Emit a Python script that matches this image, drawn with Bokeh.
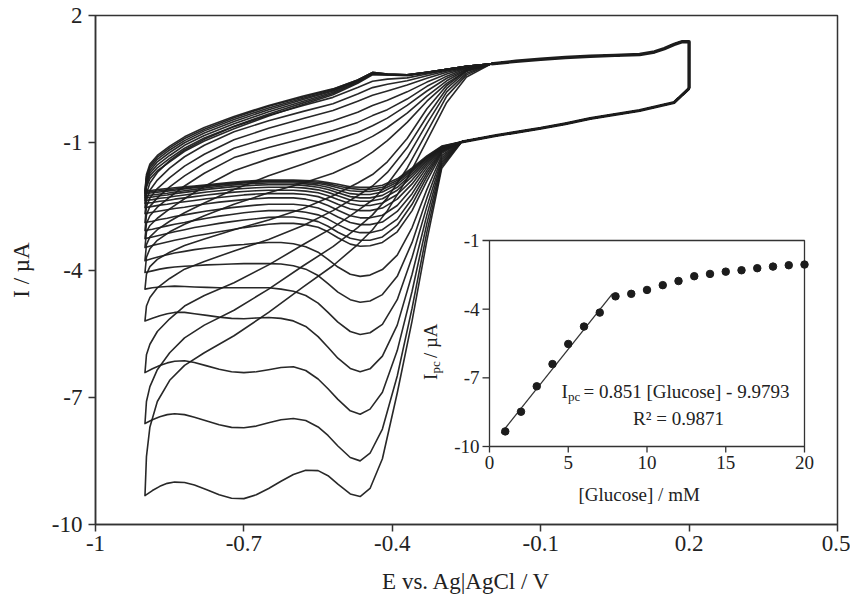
from bokeh.plotting import figure
from bokeh.models import (Range1d, FixedTicker, CustomJSTickFormatter, ColumnDataSource)
from bokeh.core.properties import value
from bokeh.embed import file_html
from bokeh.resources import INLINE

# ---------------- main CV data ----------------
X_TICKS = [-1, -0.7, -0.4, -0.1, 0.2, 0.5]
Y_TICKS = [2, -1, -4, -7, -10]

# shared cathodic start (from 0.2 V going negative)
E_CATH_COMMON = [0.2, 0.17, 0.1, 0.0, -0.05, -0.1, -0.19, -0.26]
I_CATH_COMMON = [0.28, -0.05, -0.24, -0.43, -0.55, -0.66, -0.83, -0.98]

# per-curve cathodic part
E_CATH = [-0.30, -0.33, -0.36, -0.39, -0.42, -0.445, -0.465, -0.485, -0.51, -0.53,
          -0.55, -0.575, -0.60, -0.625, -0.65, -0.675, -0.70, -0.725, -0.75, -0.775,
          -0.80, -0.82, -0.84, -0.855, -0.87, -0.885, -0.90]
I_CATH = [
    [-1.6, -3.3, -5.2, -6.9, -8.45, -9.15, -9.34, -9.28, -9.05, -8.85, -8.73, -8.72, -8.82, -8.98, -9.15, -9.3, -9.39, -9.38, -9.3, -9.18, -9.07, -9.01, -9.0, -9.03, -9.1, -9.2, -9.32],
    [-1.55, -3.1, -4.9, -6.5, -7.75, -8.32, -8.5, -8.42, -8.15, -7.9, -7.7, -7.55, -7.5, -7.53, -7.6, -7.68, -7.72, -7.71, -7.65, -7.56, -7.47, -7.41, -7.39, -7.41, -7.46, -7.53, -7.62],
    [-1.5, -2.9, -4.5, -5.9, -6.88, -7.28, -7.4, -7.32, -7.05, -6.8, -6.57, -6.37, -6.28, -6.3, -6.35, -6.4, -6.42, -6.4, -6.34, -6.26, -6.18, -6.14, -6.15, -6.19, -6.25, -6.33, -6.42],
    [-1.45, -2.7, -4.1, -5.3, -6.03, -6.33, -6.4, -6.32, -6.08, -5.82, -5.57, -5.33, -5.2, -5.14, -5.12, -5.13, -5.15, -5.14, -5.11, -5.07, -5.03, -5.0, -5.0, -5.03, -5.08, -5.14, -5.2],
    [-1.4, -2.5, -3.7, -4.7, -5.28, -5.48, -5.52, -5.45, -5.23, -5.0, -4.78, -4.6, -4.5, -4.45, -4.42, -4.42, -4.42, -4.42, -4.42, -4.41, -4.4, -4.39, -4.38, -4.39, -4.4, -4.42, -4.45],
    [-1.35, -2.3, -3.35, -4.15, -4.58, -4.73, -4.76, -4.7, -4.52, -4.32, -4.13, -3.98, -3.9, -3.86, -3.85, -3.85, -3.85, -3.86, -3.87, -3.88, -3.9, -3.91, -3.93, -3.95, -3.98, -4.02, -4.06],
    [-1.3, -2.1, -3.0, -3.65, -3.99, -4.12, -4.15, -4.1, -3.93, -3.75, -3.58, -3.45, -3.38, -3.35, -3.35, -3.37, -3.4, -3.42, -3.45, -3.48, -3.52, -3.56, -3.6, -3.64, -3.68, -3.73, -3.78],
    [-1.25, -1.9, -2.6, -3.1, -3.35, -3.43, -3.44, -3.39, -3.24, -3.1, -2.99, -2.93, -2.9, -2.9, -2.92, -2.96, -3.0, -3.05, -3.1, -3.15, -3.2, -3.25, -3.3, -3.34, -3.38, -3.42, -3.47],
    [-1.22, -1.8, -2.45, -2.95, -3.22, -3.3, -3.3, -3.25, -3.11, -2.97, -2.86, -2.79, -2.75, -2.75, -2.76, -2.79, -2.82, -2.86, -2.9, -2.95, -3.0, -3.05, -3.1, -3.14, -3.18, -3.22, -3.26],
    [-1.2, -1.72, -2.32, -2.8, -3.05, -3.12, -3.12, -3.07, -2.93, -2.8, -2.7, -2.64, -2.6, -2.6, -2.6, -2.62, -2.65, -2.69, -2.73, -2.78, -2.83, -2.88, -2.92, -2.96, -3.0, -3.04, -3.07],
    [-1.18, -1.65, -2.2, -2.62, -2.87, -2.93, -2.93, -2.88, -2.75, -2.63, -2.54, -2.48, -2.45, -2.45, -2.45, -2.47, -2.5, -2.53, -2.57, -2.61, -2.66, -2.7, -2.74, -2.78, -2.81, -2.85, -2.88],
    [-1.16, -1.58, -2.08, -2.48, -2.71, -2.77, -2.77, -2.72, -2.59, -2.48, -2.39, -2.33, -2.3, -2.3, -2.3, -2.32, -2.34, -2.37, -2.4, -2.44, -2.48, -2.52, -2.55, -2.58, -2.61, -2.64, -2.67],
    [-1.14, -1.52, -1.97, -2.33, -2.54, -2.6, -2.6, -2.56, -2.45, -2.35, -2.27, -2.22, -2.2, -2.2, -2.2, -2.21, -2.23, -2.26, -2.29, -2.32, -2.36, -2.39, -2.42, -2.45, -2.47, -2.5, -2.53],
    [-1.13, -1.47, -1.88, -2.22, -2.42, -2.48, -2.48, -2.44, -2.34, -2.25, -2.18, -2.14, -2.12, -2.12, -2.12, -2.13, -2.15, -2.17, -2.2, -2.23, -2.27, -2.3, -2.33, -2.36, -2.38, -2.41, -2.43],
    [-1.12, -1.43, -1.8, -2.12, -2.32, -2.38, -2.38, -2.35, -2.25, -2.17, -2.11, -2.07, -2.05, -2.05, -2.05, -2.06, -2.08, -2.1, -2.13, -2.16, -2.2, -2.23, -2.26, -2.29, -2.31, -2.34, -2.36],
    [-1.11, -1.4, -1.74, -2.05, -2.24, -2.3, -2.3, -2.27, -2.18, -2.1, -2.05, -2.01, -1.99, -1.99, -1.99, -2.0, -2.02, -2.04, -2.07, -2.1, -2.14, -2.17, -2.2, -2.23, -2.25, -2.28, -2.3],
    [-1.1, -1.37, -1.69, -1.98, -2.16, -2.22, -2.22, -2.2, -2.12, -2.05, -2.0, -1.97, -1.95, -1.95, -1.95, -1.96, -1.98, -2.0, -2.03, -2.06, -2.1, -2.13, -2.16, -2.19, -2.21, -2.23, -2.25],
    [-1.1, -1.35, -1.65, -1.93, -2.1, -2.15, -2.15, -2.13, -2.06, -2.0, -1.96, -1.94, -1.92, -1.92, -1.92, -1.93, -1.95, -1.97, -2.0, -2.03, -2.06, -2.09, -2.12, -2.14, -2.16, -2.18, -2.2],
    [-1.09, -1.33, -1.62, -1.89, -2.05, -2.1, -2.1, -2.08, -2.02, -1.97, -1.93, -1.91, -1.9, -1.9, -1.9, -1.91, -1.93, -1.95, -1.98, -2.01, -2.04, -2.07, -2.09, -2.11, -2.13, -2.15, -2.17],
    [-1.08, -1.31, -1.59, -1.85, -2.0, -2.05, -2.05, -2.04, -1.98, -1.94, -1.9, -1.89, -1.88, -1.88, -1.88, -1.89, -1.91, -1.93, -1.96, -1.99, -2.02, -2.04, -2.06, -2.08, -2.1, -2.12, -2.13],
]

# per-curve return (anodic) part
E_AN = [-0.897, -0.89, -0.875, -0.85, -0.82, -0.78, -0.72, -0.65, -0.58,
        -0.52, -0.47, -0.44, -0.41, -0.37, -0.33, -0.29, -0.25]
I_AN = [
    [-8.4, -7.7, -7.1, -6.6, -6.25, -5.95, -5.55, -5.0, -4.4, -3.9, -3.4, -3.05, -2.6, -1.85, -0.95, -0.05, 0.55],
    [-7.1, -6.75, -6.35, -5.95, -5.6, -5.3, -4.95, -4.45, -3.9, -3.45, -3.0, -2.7, -2.3, -1.6, -0.75, 0.1, 0.6],
    [-6.0, -5.75, -5.45, -5.15, -4.85, -4.6, -4.3, -3.88, -3.4, -3.0, -2.6, -2.35, -1.98, -1.35, -0.55, 0.2, 0.64],
    [-4.85, -4.65, -4.42, -4.2, -3.98, -3.8, -3.55, -3.28, -2.95, -2.6, -2.25, -2.02, -1.7, -1.12, -0.38, 0.28, 0.68],
    [-4.1, -3.92, -3.75, -3.58, -3.42, -3.27, -3.05, -2.82, -2.55, -2.25, -1.95, -1.75, -1.45, -0.9, -0.2, 0.35, 0.7],
    [-3.7, -3.5, -3.3, -3.1, -2.92, -2.72, -2.45, -2.18, -1.95, -1.72, -1.45, -1.22, -0.95, -0.52, -0.02, 0.4, 0.7],
    [-3.4, -3.22, -3.05, -2.85, -2.65, -2.42, -2.1, -1.78, -1.5, -1.25, -1.02, -0.85, -0.64, -0.3, 0.1, 0.46, 0.72],
    [-3.1, -2.95, -2.78, -2.56, -2.32, -2.03, -1.66, -1.38, -1.15, -0.95, -0.76, -0.6, -0.42, -0.12, 0.22, 0.52, 0.73],
    [-2.9, -2.72, -2.52, -2.28, -2.02, -1.72, -1.35, -1.11, -0.9, -0.71, -0.52, -0.36, -0.22, 0.03, 0.33, 0.57, 0.75],
    [-2.7, -2.5, -2.3, -2.04, -1.78, -1.49, -1.13, -0.88, -0.67, -0.48, -0.28, -0.12, 0.0, 0.2, 0.43, 0.62, 0.76],
    [-2.5, -2.3, -2.08, -1.82, -1.55, -1.27, -0.93, -0.66, -0.43, -0.24, -0.02, 0.12, 0.22, 0.36, 0.52, 0.66, 0.77],
    [-2.35, -2.12, -1.88, -1.6, -1.33, -1.06, -0.74, -0.48, -0.26, -0.08, 0.15, 0.3, 0.38, 0.46, 0.58, 0.69, 0.78],
    [-2.2, -1.95, -1.7, -1.42, -1.17, -0.92, -0.62, -0.35, -0.12, 0.07, 0.3, 0.45, 0.5, 0.53, 0.62, 0.71, 0.79],
    [-2.05, -1.85, -1.66, -1.45, -1.2, -0.96, -0.67, -0.37, -0.1, 0.13, 0.4, 0.6, 0.6, 0.58, 0.65, 0.72, 0.8],
    [-2.0, -1.78, -1.59, -1.37, -1.13, -0.89, -0.61, -0.32, -0.06, 0.16, 0.42, 0.62, 0.6, 0.59, 0.65, 0.73, 0.8],
    [-1.95, -1.72, -1.52, -1.3, -1.06, -0.83, -0.55, -0.27, -0.02, 0.19, 0.44, 0.63, 0.61, 0.59, 0.66, 0.73, 0.8],
    [-1.9, -1.66, -1.45, -1.23, -1.0, -0.77, -0.5, -0.22, 0.02, 0.22, 0.46, 0.64, 0.61, 0.6, 0.66, 0.73, 0.8],
    [-1.85, -1.6, -1.39, -1.17, -0.95, -0.72, -0.45, -0.18, 0.05, 0.24, 0.47, 0.65, 0.62, 0.6, 0.66, 0.73, 0.8],
    [-1.8, -1.55, -1.34, -1.12, -0.9, -0.68, -0.41, -0.14, 0.08, 0.26, 0.48, 0.66, 0.62, 0.6, 0.66, 0.73, 0.8],
    [-1.75, -1.5, -1.3, -1.08, -0.86, -0.64, -0.38, -0.12, 0.1, 0.27, 0.48, 0.66, 0.62, 0.6, 0.66, 0.73, 0.8],
]

# shared anodic end (back to 0.2 V, then the switching edge)
E_AN_COMMON = [-0.2, -0.15, -0.1, -0.05, 0.0, 0.05, 0.1, 0.13, 0.15, 0.17, 0.185, 0.2, 0.2]
I_AN_COMMON = [0.86, 0.92, 0.97, 1.01, 1.04, 1.06, 1.08, 1.14, 1.22, 1.32, 1.38, 1.38, 0.28]

# ---------------- inset data ----------------
GLUCOSE = [1, 2, 3, 4, 5, 6, 7, 8, 9, 10, 11, 12, 13, 14, 15, 16, 17, 18, 19, 20]
IPC = [-9.34, -8.48, -7.37, -6.40, -5.52, -4.76, -4.15, -3.44, -3.33, -3.16,
       -2.95, -2.77, -2.56, -2.46, -2.36, -2.30, -2.21, -2.14, -2.08, -2.05]
FIT_X = [0.75, 7.8]
FIT_Y = [-9.42, -3.33]
INSET_XTICKS = [0, 5, 10, 15, 20]
INSET_YTICKS = [-1, -4, -7, -10]

# ---------------- layout constants (canvas px) ----------------
W, H = 850, 603
FL, FR, FT, FB = 95, 837, 15, 524
IL, IR, IT, IB = 489, 804, 240, 446   # inset box in canvas px

INK = "#1c1c1c"
AX = "#333333"
TXT = "#222222"
FONT = value("Liberation Serif")

p = figure(width=W, height=H, output_backend="svg", toolbar_location=None,
           x_range=Range1d(-1, 0.5), y_range=Range1d(-10, 2),
           min_border_left=FL, min_border_right=W - FR,
           min_border_top=FT, min_border_bottom=H - FB)
p.background_fill_color = "white"
p.border_fill_color = "white"
p.xgrid.visible = False
p.ygrid.visible = False
p.outline_line_color = AX
p.outline_line_width = 1.5

fmt = CustomJSTickFormatter(code="return (Math.round(tick*10)/10).toString();")
p.xaxis.ticker = FixedTicker(ticks=X_TICKS)
p.yaxis.ticker = FixedTicker(ticks=Y_TICKS)
p.xaxis.formatter = fmt
p.yaxis.formatter = fmt
for ax in (p.xaxis[0], p.yaxis[0]):
    ax.major_tick_out = 7
    ax.major_tick_in = 0
    ax.minor_tick_out = 0
    ax.minor_tick_in = 0
    ax.axis_line_color = AX
    ax.axis_line_width = 1.5
    ax.major_tick_line_color = AX
    ax.major_tick_line_width = 1.5
    ax.major_label_text_font = "Liberation Serif"
    ax.major_label_text_font_size = "23px"
    ax.major_label_text_color = TXT
    ax.axis_label_text_font = "Liberation Serif"
    ax.axis_label_text_font_size = "23px"
    ax.axis_label_text_font_style = "normal"
    ax.axis_label_text_color = TXT
p.xaxis.axis_label = "E vs. Ag|AgCl / V"
p.yaxis.axis_label = "I / \u00b5A"
p.xaxis.major_label_standoff = 4
p.xaxis.axis_label_standoff = 15
p.yaxis.major_label_standoff = 6
p.yaxis.axis_label_standoff = 15

# CV curves
xs, ys = [], []
for ic, ia in zip(I_CATH, I_AN):
    assert len(ic) == len(E_CATH) and len(ia) == len(E_AN)
    xs.append(E_CATH_COMMON + E_CATH + E_AN + E_AN_COMMON)
    ys.append(I_CATH_COMMON + ic + ia + I_AN_COMMON)
p.multi_line(xs=xs, ys=ys, line_color=INK, line_width=1.6, line_alpha=0.95,
             line_join="round")
# overlapping shared segments appear as a heavy band
p.line(E_AN_COMMON, I_AN_COMMON, line_color=INK, line_width=3.4, line_join="round")
p.line(E_CATH_COMMON, I_CATH_COMMON, line_color=INK, line_width=3.0, line_join="round")

# ---------------- inset (own ranges mapped onto its box) ----------------
ux = 20.0 / (IR - IL)
vy = 9.0 / (IB - IT)
p.extra_x_ranges = {"ix": Range1d(0 - (IL - FL) * ux, 20 + (FR - IR) * ux)}
p.extra_y_ranges = {"iy": Range1d(-10 - (FB - IB) * vy, -1 + (IT - FT) * vy)}
R = dict(x_range_name="ix", y_range_name="iy")

p.line([0, 20, 20, 0, 0], [-10, -10, -1, -1, -10], line_color=AX, line_width=1.3, **R)
tick_len_x = 7 * ux
tick_len_y = 6 * vy
p.segment(x0=[0] * len(INSET_YTICKS), x1=[-tick_len_x] * len(INSET_YTICKS),
          y0=INSET_YTICKS, y1=INSET_YTICKS, line_color=AX, line_width=1.3, **R)
p.segment(x0=INSET_XTICKS, x1=INSET_XTICKS, y0=[-10] * len(INSET_XTICKS),
          y1=[-10 - tick_len_y] * len(INSET_XTICKS), line_color=AX, line_width=1.3, **R)

p.text(x=[-tick_len_x] * len(INSET_YTICKS), y=INSET_YTICKS,
       text=[str(t) for t in INSET_YTICKS], x_offset=-3,
       text_align="right", text_baseline="middle", text_font=FONT,
       text_font_size="19px", text_color=TXT, **R)
p.text(x=INSET_XTICKS, y=[-10 - tick_len_y] * len(INSET_XTICKS),
       text=[str(t) for t in INSET_XTICKS], y_offset=3,
       text_align="center", text_baseline="top", text_font=FONT,
       text_font_size="19px", text_color=TXT, **R)
p.text(x=[9.5], y=[-12.1], text=["[Glucose] / mM"], text_align="center",
       text_baseline="middle", text_font=FONT, text_font_size="19px",
       text_color=TXT, **R)

# rotated y title I_pc / µA
ylab_src = ColumnDataSource(dict(x=[-3.75, -3.75, -3.75], y=[-7.1, -7.1, -7.1],
                                 t=["I", "pc", " / \u00b5A"],
                                 sz=["19px", "13px", "19px"],
                                 xo=[0, 5, 0], yo=[0, -6.5, -22]))
p.text(x="x", y="y", text="t", text_font_size="sz", x_offset="xo", y_offset="yo",
       angle=1.5708, text_align="left", text_baseline="middle", text_font=FONT,
       text_color=TXT, source=ylab_src, **R)

p.line(FIT_X, FIT_Y, line_color=AX, line_width=1.3, **R)
p.scatter(GLUCOSE, IPC, size=7.5, marker="circle", fill_color=INK, line_color=INK, **R)

eq_src = ColumnDataSource(dict(x=[4.57, 4.57, 4.57], y=[-7.6, -7.6, -7.6],
                               t=["I", "pc", " = 0.851 [Glucose] - 9.9793"],
                               sz=["19px", "13px", "19px"],
                               xo=[0, 6.5, 22], yo=[0, 5, 0]))
p.text(x="x", y="y", text="t", text_font_size="sz", x_offset="xo", y_offset="yo",
       text_align="left", text_baseline="middle", text_font=FONT,
       text_color=TXT, source=eq_src, **R)
p.text(x=[12.0], y=[-8.78], text=["R\u00b2 = 0.9871"], text_align="center",
       text_baseline="middle", text_font=FONT, text_font_size="19px",
       text_color=TXT, **R)

open("out.html", "w").write(file_html(p, INLINE))
